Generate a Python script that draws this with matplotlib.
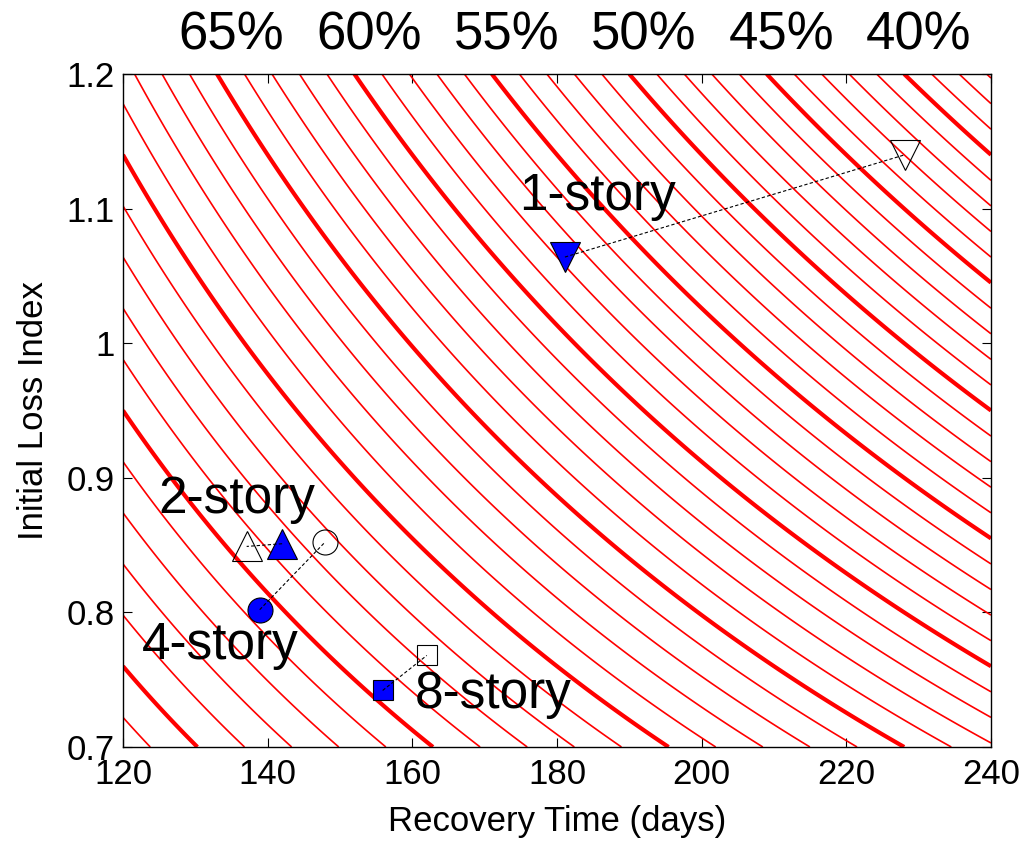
import numpy as np
import matplotlib
matplotlib.use("Agg")
import matplotlib.pyplot as plt

plt.rcParams['font.family'] = ['Liberation Sans', 'DejaVu Sans']

# resilience surface: R = 1 - L0 * T / c  (c)
c_days = 456.0
levels_thin = np.round(np.arange(0.36, 0.83, 0.01), 2)
levels_thick = [0.40, 0.45, 0.50, 0.55, 0.60, 0.65, 0.70, 0.75, 0.80]
top_labels = [0.65, 0.60, 0.55, 0.50, 0.45, 0.40]

# buildings: filled = first design, hollow = alternative
stories = ['1-story', '2-story', '4-story', '8-story']
markers = ['v', '^', 'o', 's']
t_filled = [181.1, 142.0, 138.9, 155.9]
l_filled = [1.064, 0.851, 0.802, 0.742]
t_hollow = [228.1, 137.1, 147.9, 162.0]
l_hollow = [1.140, 0.849, 0.852, 0.768]
msizes = [21, 21, 18, 15]

# label anchors (left, baseline) in data units
label_t = [174.8, 124.9, 122.6, 160.3]
label_l = [1.099, 0.874, 0.765, 0.729]

fig = plt.figure(figsize=(10.3, 8.41), dpi=100)
ax = fig.add_axes([0.1194, 0.1118, 0.8427, 0.8002])

T, L = np.meshgrid(np.linspace(120, 240, 400), np.linspace(0.7, 1.2, 400))
R = 1 - L * T / c_days
thin = [l for l in levels_thin if not any(abs(l - k) < 1e-6 for k in levels_thick)]
ax.contour(T, L, R, levels=thin, colors='red', linewidths=1.2)
ax.contour(T, L, R, levels=levels_thick, colors='red', linewidths=3.0)

for i in range(len(stories)):
    ax.plot(t_filled[i], l_filled[i], marker=markers[i], ms=msizes[i],
            mfc='blue', mec='black', mew=0.8, ls='none', zorder=4)
    ax.plot(t_hollow[i], l_hollow[i], marker=markers[i], ms=msizes[i],
            mfc='none', mec='black', mew=0.8, ls='none', zorder=4)
    ax.plot([t_filled[i], t_hollow[i]], [l_filled[i], l_hollow[i]],
            color='black', lw=0.8, ls=(0, (3, 2)), zorder=5)
    ax.text(label_t[i], label_l[i], stories[i], fontsize=37,
            ha='left', va='baseline', zorder=6)

for p in top_labels:
    x_top = c_days * (1 - p) / 1.2 + 2
    ax.text(x_top, 1.0367, f'{int(round(p * 100))}%', transform=ax.get_xaxis_transform(),
            ha='center', va='baseline', fontsize=38)

ax.set_xlim(120, 240)
ax.set_ylim(0.7, 1.2)
ax.set_xticks(np.arange(120, 241, 20))
ax.set_yticks([0.7, 0.8, 0.9, 1.0, 1.1, 1.2])
ax.set_yticklabels(['0.7', '0.8', '0.9', '1', '1.1', '1.2'])
ax.tick_params(direction='in', length=6.5, width=0.8, labelsize=25,
               top=True, right=True)
ax.tick_params(axis='x', pad=8)
ax.tick_params(axis='y', pad=6)
for s in ax.spines.values():
    s.set_linewidth(1.0)
ax.set_xlabel('Recovery Time (days)', fontsize=25, labelpad=10)
ax.set_ylabel('Initial Loss Index', fontsize=25, labelpad=12)

fig.savefig('out.png', dpi=100)
